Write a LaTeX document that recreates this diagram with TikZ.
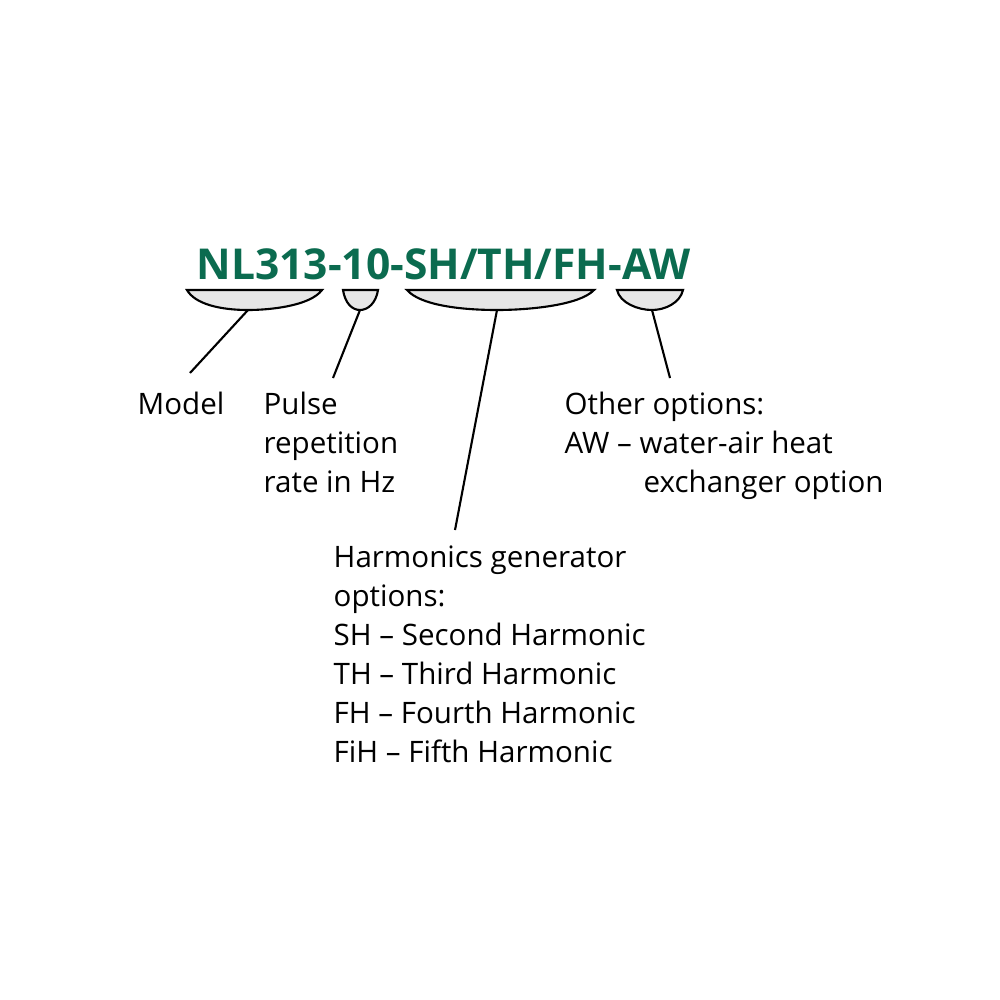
\documentclass[tikz,border=0pt]{standalone}
\usepackage{fontspec}
\setmainfont{Open Sans}
\definecolor{codegreen}{HTML}{0B6B4F}
\definecolor{bracefill}{HTML}{E6E6E6}
\begin{document}
\begin{tikzpicture}[x=0.01cm,y=-0.01cm,
  brace/.style={draw=black,fill=bracefill,line width=0.6pt},
  lead/.style={draw=black,line width=0.6pt},
  txt/.style={anchor=base west,inner sep=0pt,font=\fontsize{8.4}{10}\selectfont}]
  \useasboundingbox (0,0) rectangle (1000,1000);
  \node[anchor=base west,inner sep=0pt,text=codegreen,font=\fontsize{12.1}{14}\selectfont\bfseries] (code) at (196,279) {NL313-10-SH/TH/FH-AW};
  % braces under the code
  \draw[brace] (187,290) -- (322,290) .. controls (310,306) and (270,310) .. (248,310) .. controls (220,310) and (195,304) .. (187,290) -- cycle;
  \draw[brace] (343,290) -- (378,290) .. controls (376,303) and (368,310) .. (360,310) .. controls (352,310) and (345,303) .. (343,290) -- cycle;
  \draw[brace] (407,290) -- (594,290) .. controls (580,305) and (530,310) .. (497,310) .. controls (460,310) and (420,305) .. (407,290) -- cycle;
  \draw[brace] (617,290) -- (683,290) .. controls (680,303) and (665,310) .. (652,310) .. controls (638,310) and (620,303) .. (617,290) -- cycle;
  \coordinate (m1) at (248,310);
  \coordinate (m2) at (360,310);
  \coordinate (m3) at (497,310);
  \coordinate (m4) at (652,310);
  \coordinate (e1) at (190,373);
  \coordinate (e2) at (333,378);
  \coordinate (e3) at (455,530);
  \coordinate (e4) at (670,378);
  \foreach \i in {1,...,4} \draw[lead] (m\i) -- (e\i);
  % labels
  \node[txt] (model) at (137,414) {Model};
  \node[txt] (rate1) at (263,414) {Pulse};
  \node[txt] (rate2) at (263,453) {repetition};
  \node[txt] (rate3) at (263,492) {rate in Hz};
  \node[txt] (other1) at (564,414) {Other options:};
  \node[txt] (other2) at (564,453) {AW – water-air heat};
  \node[txt] (other3) at (643,492) {exchanger option};
  \node[txt] (harm1) at (333,567) {Harmonics generator};
  \node[txt] (harm2) at (333,606) {options:};
  \node[txt] (harm3) at (333,645) {SH – Second Harmonic};
  \node[txt] (harm4) at (333,684) {TH – Third Harmonic};
  \node[txt] (harm5) at (333,723) {FH – Fourth Harmonic};
  \node[txt] (harm6) at (333,762) {FiH – Fifth Harmonic};
\end{tikzpicture}
\end{document}
